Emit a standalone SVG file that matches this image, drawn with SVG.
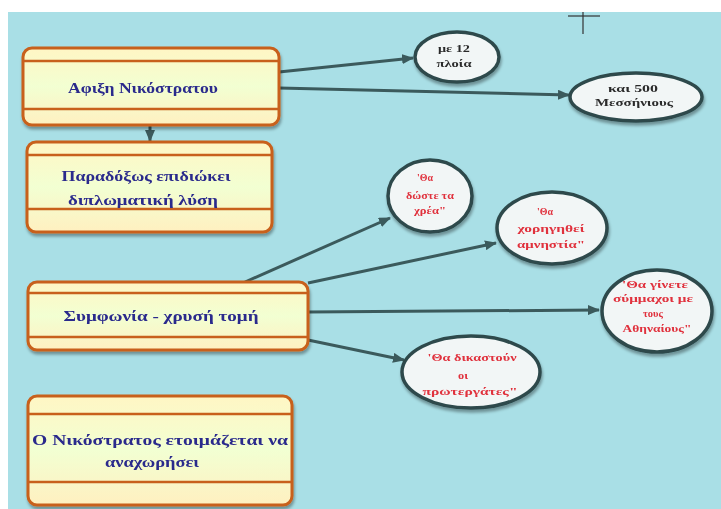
<svg xmlns="http://www.w3.org/2000/svg" width="721" height="509" viewBox="0 0 721 509">
<defs>
<style>
.box{fill:url(#bg);stroke:#c8601a;stroke-width:3}
.band{stroke:#c8601a;stroke-width:2.5}
.bt{font-family:"Liberation Serif","DejaVu Serif",serif;font-weight:bold;font-size:15px;fill:#2a2a8c;text-anchor:middle}
.ell{fill:#f2f6f6;stroke:#2d4a4c;stroke-width:3.5}
.et{font-family:"Liberation Serif","DejaVu Serif",serif;font-weight:bold;font-size:10.5px;text-anchor:middle}
.red{fill:#e0303c}
.dk{fill:#2b2b2b}
.con{stroke:#3b5a5c;stroke-width:3;fill:none;marker-end:url(#ah)}
</style>
<linearGradient id="bg" x1="0" y1="0" x2="0" y2="1">
<stop offset="0" stop-color="#fff6c4"/>
<stop offset="0.5" stop-color="#f2ffd2"/>
<stop offset="1" stop-color="#fff0c0"/>
</linearGradient>
<filter id="sh" x="-10%" y="-10%" width="130%" height="140%">
<feDropShadow dx="1" dy="3" stdDeviation="1.5" flood-color="#000" flood-opacity="0.35"/>
</filter>
<marker id="ah" viewBox="0 0 12 10" refX="11" refY="5" markerWidth="12" markerHeight="10" markerUnits="userSpaceOnUse" orient="auto">
<path d="M0,0 L12,5 L0,10 z" fill="#3b5a5c"/>
</marker>
</defs>
<rect x="0" y="0" width="721" height="509" fill="#ffffff"/>
<rect x="8" y="12" width="713" height="497" fill="#a9dfe6"/>
<g id="cross" stroke="#333" stroke-width="1.2">
<line x1="583" y1="12" x2="583" y2="34"/>
<line x1="568" y1="16" x2="600" y2="16"/>
</g>
<g id="connectors">
<line class="con" x1="150" y1="125" x2="150" y2="141"/>
<line class="con" x1="279" y1="72" x2="413" y2="58"/>
<line class="con" x1="279" y1="88" x2="569" y2="95"/>
<line class="con" x1="245" y1="282" x2="390" y2="218"/>
<line class="con" x1="308" y1="283" x2="496" y2="243"/>
<line class="con" x1="308" y1="312" x2="599" y2="310"/>
<line class="con" x1="308" y1="340" x2="404" y2="360"/>
</g>
<g id="n1" filter="url(#sh)">
<rect class="box" x="23" y="48" width="256" height="77" rx="9"/>
<line class="band" x1="24" y1="61" x2="278" y2="61"/>
<line class="band" x1="24" y1="109" x2="278" y2="109"/>
<text class="bt" x="143" y="93" textLength="150" lengthAdjust="spacingAndGlyphs">Αφιξη Νικόστρατου</text>
</g>
<g id="n2" filter="url(#sh)">
<rect class="box" x="27" y="142" width="245" height="90" rx="9"/>
<line class="band" x1="28" y1="155" x2="271" y2="155"/>
<line class="band" x1="28" y1="209" x2="271" y2="209"/>
<text class="bt" x="146" y="181" textLength="169" lengthAdjust="spacingAndGlyphs">Παραδόξως επιδιώκει</text>
<text class="bt" x="143" y="205" textLength="150" lengthAdjust="spacingAndGlyphs">διπλωματική λύση</text>
</g>
<g id="n3" filter="url(#sh)">
<rect class="box" x="28" y="282" width="280" height="68" rx="9"/>
<line class="band" x1="29" y1="293" x2="307" y2="293"/>
<line class="band" x1="29" y1="337" x2="307" y2="337"/>
<text class="bt" x="161" y="321" textLength="195" lengthAdjust="spacingAndGlyphs">Συμφωνία - χρυσή τομή</text>
</g>
<g id="n4" filter="url(#sh)">
<rect class="box" x="28" y="396" width="264" height="109" rx="9"/>
<line class="band" x1="29" y1="414" x2="291" y2="414"/>
<line class="band" x1="29" y1="482" x2="291" y2="482"/>
<text class="bt" x="160" y="445" textLength="256" lengthAdjust="spacingAndGlyphs">Ο Νικόστρατος ετοιμάζεται να</text>
<text class="bt" x="152" y="467" textLength="94" lengthAdjust="spacingAndGlyphs">αναχωρήσει</text>
</g>
<g id="e1" filter="url(#sh)">
<ellipse class="ell" cx="457" cy="57" rx="42" ry="25"/>
<text class="et dk" x="454" y="52" textLength="32" lengthAdjust="spacingAndGlyphs">με 12</text>
<text class="et dk" x="454" y="67" textLength="35" lengthAdjust="spacingAndGlyphs">πλοία</text>
</g>
<g id="e2" filter="url(#sh)">
<ellipse class="ell" cx="636" cy="97" rx="66" ry="24"/>
<text class="et dk" x="633" y="92" textLength="50" lengthAdjust="spacingAndGlyphs">και 500</text>
<text class="et dk" x="634" y="106" textLength="78" lengthAdjust="spacingAndGlyphs">Μεσσήνιους</text>
</g>
<g id="e3" filter="url(#sh)">
<ellipse class="ell" cx="430" cy="196" rx="42" ry="36"/>
<text class="et red" x="425" y="181" textLength="16" lengthAdjust="spacingAndGlyphs">'Θα</text>
<text class="et red" x="430" y="199" textLength="48" lengthAdjust="spacingAndGlyphs">δώστε τα</text>
<text class="et red" x="430" y="214" textLength="32" lengthAdjust="spacingAndGlyphs">χρέα"</text>
</g>
<g id="e4" filter="url(#sh)">
<ellipse class="ell" cx="552" cy="228" rx="55" ry="36"/>
<text class="et red" x="545" y="215" textLength="16" lengthAdjust="spacingAndGlyphs">'Θα</text>
<text class="et red" x="551" y="232" textLength="67" lengthAdjust="spacingAndGlyphs">χορηγηθεί</text>
<text class="et red" x="551" y="248" textLength="68" lengthAdjust="spacingAndGlyphs">αμνηστία"</text>
</g>
<g id="e5" filter="url(#sh)">
<ellipse class="ell" cx="657" cy="311" rx="55" ry="41"/>
<text class="et red" x="655" y="288" textLength="66" lengthAdjust="spacingAndGlyphs">'Θα γίνετε</text>
<text class="et red" x="653" y="302" textLength="80" lengthAdjust="spacingAndGlyphs">σύμμαχοι με</text>
<text class="et red" x="653" y="317" textLength="20" lengthAdjust="spacingAndGlyphs">τους</text>
<text class="et red" x="657" y="332" textLength="69" lengthAdjust="spacingAndGlyphs">Αθηναίους"</text>
</g>
<g id="e6" filter="url(#sh)">
<ellipse class="ell" cx="471" cy="372" rx="69" ry="36"/>
<text class="et red" x="472" y="361" textLength="89" lengthAdjust="spacingAndGlyphs">'Θα δικαστούν</text>
<text class="et red" x="463" y="379" textLength="10" lengthAdjust="spacingAndGlyphs">οι</text>
<text class="et red" x="470" y="395" textLength="95" lengthAdjust="spacingAndGlyphs">πρωτεργάτες"</text>
</g>
</svg>
